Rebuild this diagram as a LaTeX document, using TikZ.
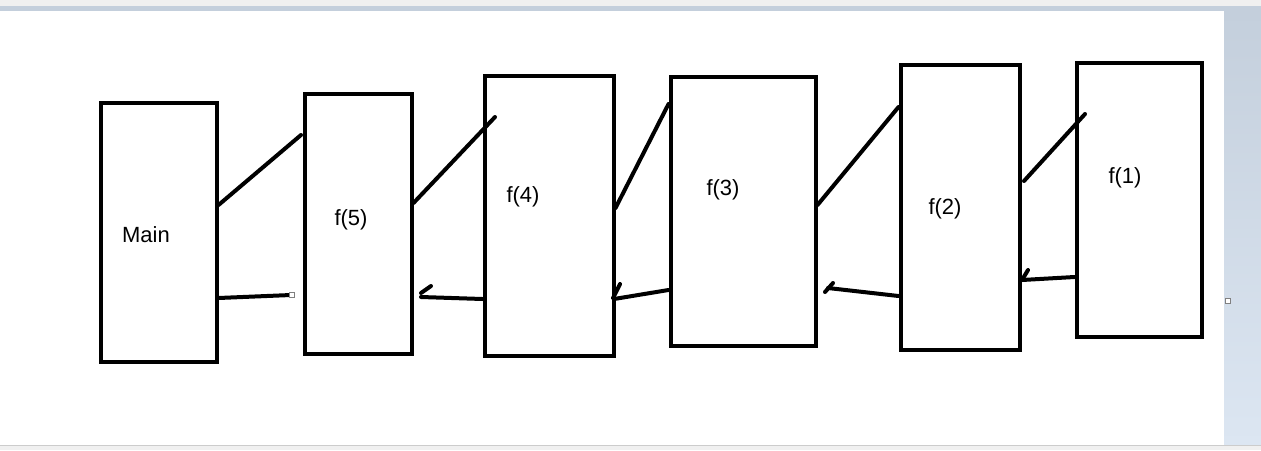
\documentclass[tikz,border=0pt]{standalone}
\usepackage{fontspec}
\setmainfont{Liberation Sans}
\definecolor{paneA}{RGB}{196,207,220}
\definecolor{paneB}{RGB}{220,230,242}
\definecolor{barC}{RGB}{240,240,240}
\begin{document}
\begin{tikzpicture}[x=0.5pt,y=-0.5pt,
  frame/.style={draw=black,line width=2pt,fill=white,inner sep=0pt,anchor=north west},
  lbl/.style={font=\fontsize{11}{13}\selectfont,inner sep=0pt},
  wire/.style={line width=2pt,line cap=round},
  handle/.style={draw=gray,fill=white,line width=0.3pt,minimum size=2.5pt,inner sep=0pt}]
\useasboundingbox (0,0) rectangle (1261,450);
% window background
\fill[white] (0,0) rectangle (1261,450);
\fill[barC] (0,0) rectangle (1261,6);
\shade[top color=paneA,bottom color=paneB] (1224,11) rectangle (1261,445);
\fill[paneA] (0,6) rectangle (1261,11);
\fill[barC] (0,445) rectangle (1261,450);
\draw[gray!40,line width=0.5pt] (0,445) -- (1261,445);
% boxes
\node[frame,minimum width=58pt,minimum height=129.5pt] (main) at (98.5,100.5) {};
\node[frame,minimum width=53.5pt,minimum height=130pt] (f5) at (302.5,91.5) {};
\node[frame,minimum width=64.5pt,minimum height=140pt] (f4) at (482.5,73.5) {};
\node[frame,minimum width=72.5pt,minimum height=134.5pt] (f3) at (668.5,74.5) {};
\node[frame,minimum width=59.5pt,minimum height=142.5pt] (f2) at (898.5,62.5) {};
\node[frame,minimum width=62.5pt,minimum height=137pt] (f1) at (1074.5,60.5) {};
% labels
\node[lbl] (tmain) at (146,235) {Main};
\node[lbl] (t5) at (351,220) {f(5)};
\node[lbl] (t4) at (523,197) {f(4)};
\node[lbl] (t3) at (723,190) {f(3)};
\node[lbl] (t2) at (945,209) {f(2)};
\node[lbl] (t1) at (1125,178) {f(1)};
% calls
\coordinate (c0) at (main.east |- 0,205);
\coordinate (c0e) at (301,135);
\draw[wire] (c0) -- (c0e);
\coordinate (c1) at (f5.east |- 0,203);
\coordinate (c1e) at (495,117);
\draw[wire] (c1) -- (c1e);
\coordinate (c2) at (f4.east |- 0,208);
\coordinate (c2e) at (f3.west |- 0,104);
\draw[wire] (c2) -- (c2e);
\coordinate (c3) at (f3.east |- 0,205);
\coordinate (c3e) at (f2.west |- 0,107);
\draw[wire] (c3) -- (c3e);
\coordinate (c4) at (1024,181);
\coordinate (c4e) at (1085,114);
\draw[wire] (c4) -- (c4e);
% returns
\coordinate (r5) at (291,295);
\coordinate (r5e) at (main.east |- 0,298);
\draw[wire] (r5) -- (r5e);
\node[handle] (h1) at (292,295) {};
\coordinate (r4) at (f4.west |- 0,299);
\coordinate (r4e) at (421,297);
\draw[wire] (r4) -- (r4e);
\draw[wire] (421,293) -- (431,286);
\coordinate (r3) at (f3.west |- 0,290);
\coordinate (r3e) at (614,299);
\draw[wire] (r3) -- (r3e);
\draw[wire] (613,298) -- (620,284);
\coordinate (r2) at (f2.west |- 0,296);
\coordinate (r2e) at (828,288);
\draw[wire] (r2) -- (r2e);
\draw[wire] (825,292) -- (833,283);
\coordinate (r1) at (f1.west |- 0,277);
\coordinate (r1e) at (1022,280);
\draw[wire] (r1) -- (r1e);
\draw[wire] (1022,280) -- (1028,270);
\node[handle] (h2) at (1228,301) {};
\end{tikzpicture}
\end{document}
